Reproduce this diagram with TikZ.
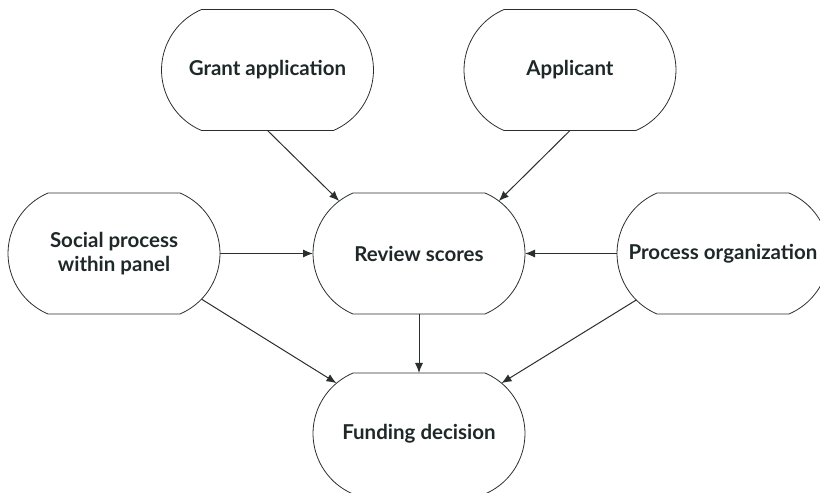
\documentclass[tikz,border=0pt]{standalone}
\usepackage{fontspec}
\setmainfont{Lato}
\usetikzlibrary{calc,arrows.meta}
\definecolor{ink}{HTML}{1F2828}
\definecolor{edge}{HTML}{2A2E2E}
\newcommand\stadiumoutline[1]{%
  \draw[shapeline] ($(#1.center)+(-66,60.5)$) -- ($(#1.center)+(66,60.5)$)
    arc[start angle=66.9, end angle=-66.9, radius=65.75]
    -- ($(#1.center)+(-66,-60.5)$)
    arc[start angle=246.9, end angle=113.1, radius=65.75] -- cycle;}
\begin{document}
\begin{tikzpicture}[x=1pt,y=1pt,
  box/.style={shape=rectangle, draw=none, minimum width=212pt, minimum height=121pt,
    inner sep=0pt, align=center, text=ink, font=\fontsize{20.5}{23.5}\selectfont\bfseries},
  shapeline/.style={draw=edge, line width=0.8pt},
  conn/.style={draw=edge, line width=1pt, -{Latex[length=10pt,width=8pt]}}]
\useasboundingbox (0,0) rectangle (820,493);
\clip (0,0) rectangle (820,493);
\node[box] (ga) at (267.5,423) {Grant application};
\node[box] (ap) at (570,423) {Applicant};
\node[box] (so) at (114,239.5) {Social process\\within panel};
\node[box] (rv) at (419,239.5) {Review scores};
\node[box] (po) at (723,239.5) {Process organization};
\node[box] (fd) at (419,59.5) {Funding decision};
\foreach \n in {ga,ap,so,rv,po,fd} {\stadiumoutline{\n}}
\coordinate (gas) at ($(ga.center)+(0,-60.5)$);
\coordinate (aps) at ($(ap.center)+(0,-60.5)$);
\coordinate (rvnw) at ($(rv.center)+(-40.25,0)+(127:65.75)$);
\coordinate (rvne) at ($(rv.center)+(40.25,0)+(53:65.75)$);
\coordinate (rvw) at ($(rv.center)+(-106,0)$);
\coordinate (rve) at ($(rv.center)+(106,0)$);
\coordinate (rvs) at ($(rv.center)+(0,-60.5)$);
\coordinate (soe) at ($(so.center)+(106,0)$);
\coordinate (sose) at ($(so.center)+(40.25,0)+(-44:65.75)$);
\coordinate (pow) at ($(po.center)+(-106,0)$);
\coordinate (posw) at ($(po.center)+(-40.25,0)+(-135:65.75)$);
\coordinate (fdn) at ($(fd.center)+(0,60.5)$);
\coordinate (fdnw) at ($(fd.center)+(-40.25,0)+(130:65.75)$);
\coordinate (fdne) at ($(fd.center)+(40.25,0)+(50:65.75)$);
\draw[conn] (gas) -- (rvnw);
\draw[conn] (aps) -- (rvne);
\draw[conn] (soe) -- (rvw);
\draw[conn] (pow) -- (rve);
\draw[conn] (rvs) -- (fdn);
\draw[conn] (sose) -- (fdnw);
\draw[conn] (posw) -- (fdne);
\end{tikzpicture}
\end{document}
